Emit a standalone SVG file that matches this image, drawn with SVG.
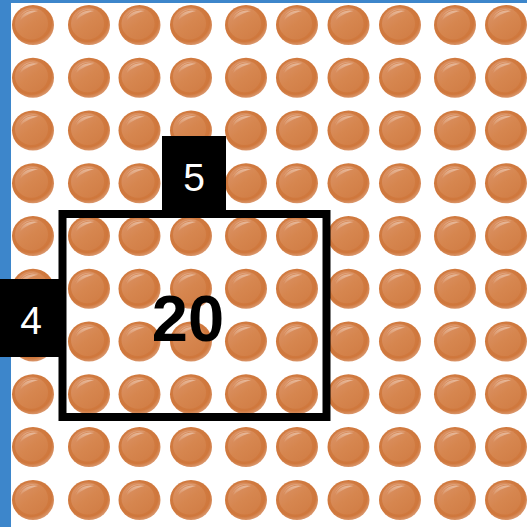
<svg xmlns="http://www.w3.org/2000/svg" xmlns:xlink="http://www.w3.org/1999/xlink" width="527" height="527" viewBox="0 0 527 527">
<style>
.lbl{font-family:"Liberation Sans","Open Sans",sans-serif;fill:#fff;font-size:39px;text-anchor:middle}
.big{font-family:"Liberation Sans",Arial,sans-serif;font-weight:bold;fill:#000;font-size:65px;text-anchor:middle}
</style>
<defs>
<radialGradient id="outer" cx="0.45" cy="0.42" r="0.6">
<stop offset="0" stop-color="#d6864f"/>
<stop offset="0.82" stop-color="#cf773c"/>
<stop offset="1" stop-color="#dc9c74"/>
</radialGradient>
<linearGradient id="inner" x1="0.2" y1="0.1" x2="0.8" y2="0.9">
<stop offset="0" stop-color="#da9062"/>
<stop offset="0.5" stop-color="#d6864f"/>
<stop offset="1" stop-color="#d27f47"/>
</linearGradient>
<linearGradient id="hl" x1="0" y1="0" x2="0" y2="1">
<stop offset="0" stop-color="#fff" stop-opacity="0.4"/>
<stop offset="1" stop-color="#fff" stop-opacity="0"/>
</linearGradient>
<g id="bead">
<ellipse cx="0" cy="0" rx="21" ry="20" fill="url(#outer)"/>
<ellipse cx="-1.5" cy="-1.5" rx="16.5" ry="16" fill="url(#inner)"/>
<path d="M-14,-6 A15,14 0 0 1 6,-15 A17,16 0 0 0 -14,-6 Z" fill="#fff" fill-opacity="0.25"/>
<path d="M-13,-4 C-12,-12 -2,-16 5,-14 C-3,-12 -9,-9 -13,-4 Z" fill="url(#hl)"/>
</g>
</defs>
<rect x="0" y="0" width="527" height="527" fill="#fff"/>
<rect x="0" y="0" width="11" height="527" fill="#3d86cb"/>
<rect x="0" y="0" width="527" height="3" fill="#3d86cb"/>
<g id="beads">
<g id="row0" transform="translate(0,25)">
<use xlink:href="#bead" x="33"/><use xlink:href="#bead" x="89"/><use xlink:href="#bead" x="139.5"/><use xlink:href="#bead" x="191"/><use xlink:href="#bead" x="246"/><use xlink:href="#bead" x="297"/><use xlink:href="#bead" x="348.5"/><use xlink:href="#bead" x="400"/><use xlink:href="#bead" x="455"/><use xlink:href="#bead" x="506"/>
</g>
<use xlink:href="#row0" y="52.75"/>
<use xlink:href="#row0" y="105.5"/>
<use xlink:href="#row0" y="158.25"/>
<use xlink:href="#row0" y="211"/>
<use xlink:href="#row0" y="263.75"/>
<use xlink:href="#row0" y="316.5"/>
<use xlink:href="#row0" y="369.25"/>
<use xlink:href="#row0" y="422"/>
<use xlink:href="#row0" y="475"/>
</g>
<g id="area">
<rect x="62.5" y="214" width="264" height="203" fill="none" stroke="#000" stroke-width="8"/>
<text class="big" x="188" y="341">20</text>
</g>
<g id="label-5">
<rect x="162" y="136" width="64" height="76" fill="#000"/>
<text class="lbl" x="194" y="191">5</text>
</g>
<g id="label-4">
<rect x="0" y="279" width="60" height="78" fill="#000"/>
<text class="lbl" x="31" y="334">4</text>
</g>
</svg>
